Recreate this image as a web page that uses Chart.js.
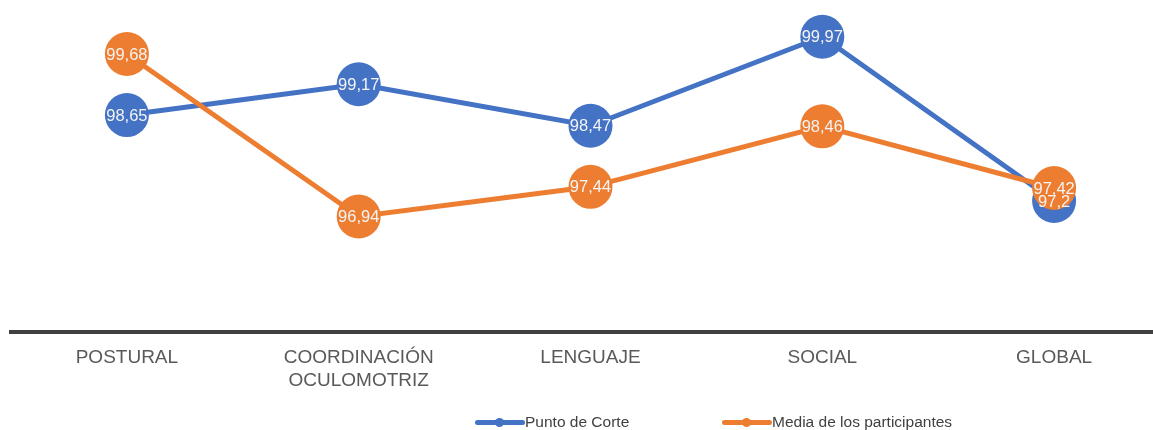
<!DOCTYPE html>
<html>
<head>
<meta charset="utf-8">
<script src="https://cdn.jsdelivr.net/npm/chart.js@4.4.0/dist/chart.umd.min.js"></script>
<style>
  html, body { margin: 0; padding: 0; background: #fff; overflow: hidden; }
  #wrap { position: relative; width: 1153px; height: 430px; overflow: hidden; }
  #legend { position: absolute; left: 0; top: 412px; height: 20px; font: 15.5px "Liberation Sans", Arial, sans-serif; color: #404040; }
  .item { position: absolute; top: 0; height: 20px; line-height: 20px; white-space: nowrap; }
  .mark { display: inline-block; position: relative; width: 50px; height: 20px; vertical-align: top; }
  .mark .ln { position: absolute; left: 0; right: 0; top: 8px; height: 5px; border-radius: 3px; }
  .mark .dt { position: absolute; left: 20px; top: 6px; width: 9px; height: 9px; border-radius: 50%; }
</style>
</head>
<body>
<div id="wrap">
  <canvas id="myChart" width="1170" height="430"></canvas>
  <div id="legend"></div>
</div>
<script>
const categories = [['POSTURAL'], ['COORDINACIÓN', 'OCULOMOTRIZ'], ['LENGUAJE'], ['SOCIAL'], ['GLOBAL']];
const puntoDeCorte = [98.65, 99.17, 98.47, 99.97, 97.2];
const mediaParticipantes = [99.68, 96.94, 97.44, 98.46, 97.42];
const seriesNames = ['Punto de Corte', 'Media de los participantes'];
const seriesColors = ['#4472C4', '#ED7D31'];

const fmt = v => String(v).replace('.', ',');

const pointLabels = {
  id: 'pointLabels',
  afterDatasetsDraw(chart) {
    const ctx = chart.ctx;
    ctx.save();
    ctx.font = '16.5px "Liberation Sans", Arial, sans-serif';
    ctx.fillStyle = '#f4f4f4';
    ctx.textAlign = 'center';
    ctx.textBaseline = 'middle';
    chart.data.datasets.forEach((ds, i) => {
      const meta = chart.getDatasetMeta(i);
      meta.data.forEach((pt, j) => {
        ctx.fillText(fmt(ds.data[j]), pt.x, pt.y + 1);
      });
    });
    ctx.restore();
  }
};

function displayChart() {
  const ctx = document.getElementById('myChart');
  return new Chart(ctx, {
    type: 'line',
    data: {
      labels: categories,
      datasets: [{
        label: seriesNames[0],
        data: puntoDeCorte,
        borderColor: seriesColors[0],
        backgroundColor: seriesColors[0],
        borderWidth: 5,
        pointRadius: 22,
        pointBorderWidth: 0,
        tension: 0,
        clip: false,
        order: 1
      }, {
        label: seriesNames[1],
        data: mediaParticipantes,
        borderColor: seriesColors[1],
        backgroundColor: seriesColors[1],
        borderWidth: 5,
        pointRadius: 22,
        pointBorderWidth: 0,
        tension: 0,
        clip: false,
        order: 0
      }]
    },
    options: {
      responsive: false,
      animation: false,
      layout: { autoPadding: false, padding: { left: 11, right: 0, top: 35, bottom: 23 } },
      plugins: { legend: { display: false }, tooltip: { enabled: false } },
      scales: {
        x: {
          offset: true,
          grid: { display: false, drawTicks: false },
          border: { display: true, color: '#404040', width: 4 },
          ticks: {
            padding: 14,
            color: '#595959',
            font: { family: '"Liberation Sans", Arial, sans-serif', size: 19, lineHeight: 1.25 },
            maxRotation: 0,
            autoSkip: false
          }
        },
        y: {
          display: false,
          min: 95,
          max: 100
        }
      }
    },
    plugins: [pointLabels]
  });
}

const chart = displayChart();

(function buildLegend() {
  const lg = document.getElementById('legend');
  const lefts = [475, 722];
  seriesNames.forEach((name, i) => {
    const it = document.createElement('div');
    it.className = 'item';
    it.style.left = lefts[i] + 'px';
    it.innerHTML = '<span class="mark"><span class="ln" style="background:' + seriesColors[i] + '"></span>' +
      '<span class="dt" style="background:' + seriesColors[i] + '"></span></span>' + name;
    lg.appendChild(it);
  });
})();
</script>
</body>
</html>
